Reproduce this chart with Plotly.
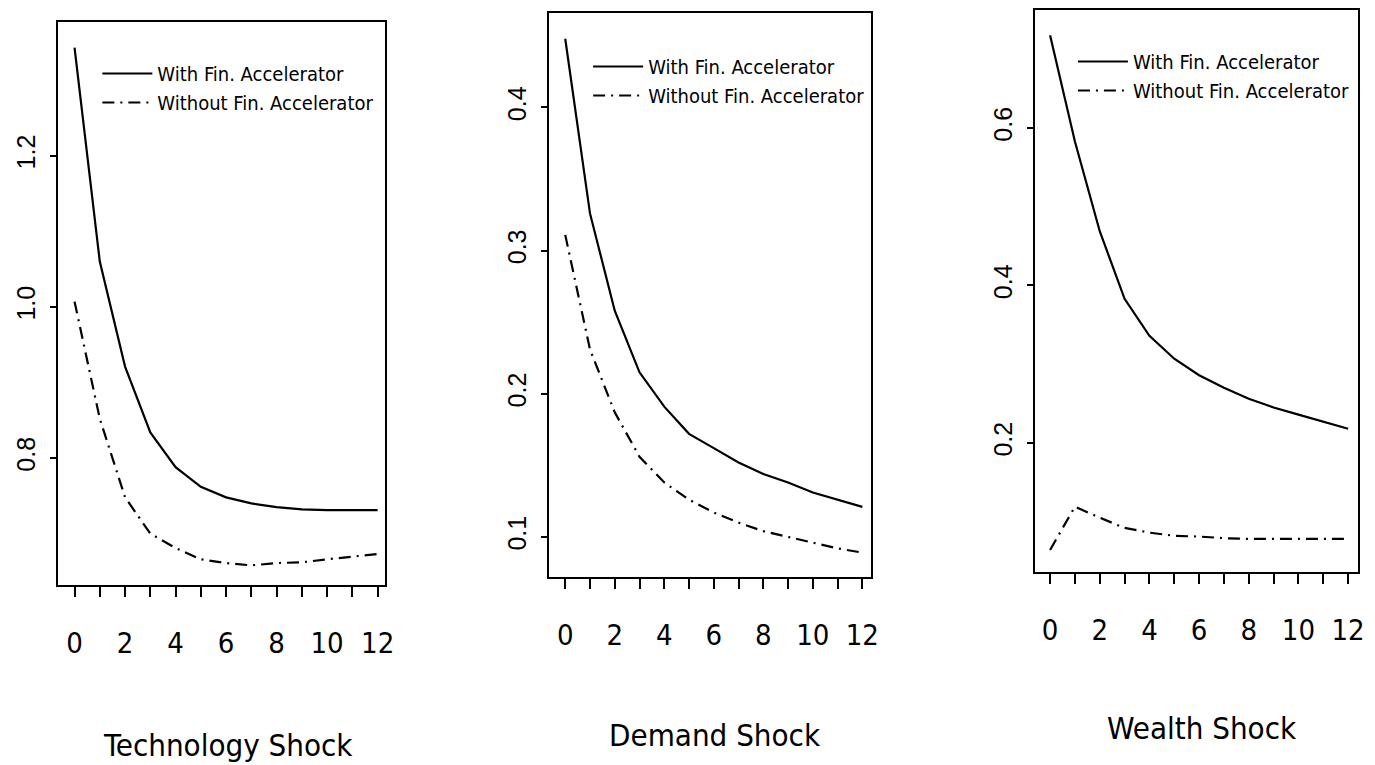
import plotly.graph_objects as go

periods = list(range(13))

tech_with = [1.343, 1.060, 0.921, 0.834, 0.788, 0.762, 0.748, 0.740, 0.735, 0.732, 0.731, 0.731, 0.731]
tech_without = [1.007, 0.852, 0.748, 0.700, 0.681, 0.666, 0.661, 0.658, 0.661, 0.662, 0.666, 0.669, 0.673]

demand_with = [0.448, 0.326, 0.258, 0.215, 0.191, 0.172, 0.162, 0.152, 0.144, 0.138, 0.131, 0.126, 0.121]
demand_without = [0.311, 0.231, 0.187, 0.156, 0.138, 0.126, 0.117, 0.110, 0.104, 0.100, 0.096, 0.092, 0.089]

wealth_with = [0.718, 0.583, 0.469, 0.383, 0.336, 0.307, 0.286, 0.270, 0.256, 0.245, 0.236, 0.227, 0.218]
wealth_without = [0.064, 0.119, 0.105, 0.092, 0.086, 0.082, 0.081, 0.079, 0.078, 0.078, 0.078, 0.078, 0.078]

panel_titles = ["Technology Shock", "Demand Shock", "Wealth Shock"]
series_names = ["With Fin. Accelerator", "Without Fin. Accelerator"]
y_ticks = [[0.8, 1.0, 1.2], [0.1, 0.2, 0.3, 0.4], [0.2, 0.4, 0.6]]
y_ticktext = [["0.8", "1.0", "1.2"], ["0.1", "0.2", "0.3", "0.4"], ["0.2", "0.4", "0.6"]]
x_ticks = [0, 2, 4, 6, 8, 10, 12]

W, H = 1375, 765
boxes = [  # left, top, right, bottom in px
    (58, 22, 388, 585),
    (553, 13, 877, 577),
    (1042, 10, 1367, 572),
]
x_ranges = [[-0.67, 12.31], [-0.64, 12.36], [-0.6, 12.4]]
y_ranges = [[0.632, 1.377], [0.072, 0.466], [0.036, 0.750]]
legend_pos = [(98, 54), (592, 47), (1080, 42)]
title_pos = [(230, 745), (720, 735), (1210, 728)]

data = [(tech_with, tech_without), (demand_with, demand_without), (wealth_with, wealth_without)]

NARROW = "Liberation Sans Narrow, DejaVu Sans Condensed, Arial Narrow, sans-serif"
REG = "Liberation Sans, Arial, sans-serif"

fig = go.Figure()
layout = dict(
    width=W, height=H, margin=dict(l=0, r=0, t=0, b=0),
    paper_bgcolor="white", plot_bgcolor="white", showlegend=True,
    annotations=[],
)

for i in range(3):
    sfx = "" if i == 0 else str(i + 1)
    lg = "legend" if i == 0 else f"legend{i + 1}"
    w, wo = data[i]
    fig.add_trace(go.Scatter(x=periods, y=w, mode="lines", name=series_names[0],
                             line=dict(color="black", width=2.2),
                             xaxis="x" + sfx, yaxis="y" + sfx, legend=lg))
    fig.add_trace(go.Scatter(x=periods, y=wo, mode="lines", name=series_names[1],
                             line=dict(color="black", width=2.2, dash="12px,6px,2px,6px"),
                             xaxis="x" + sfx, yaxis="y" + sfx, legend=lg))
    l, t, r, b = boxes[i]
    layout["xaxis" + sfx] = dict(
        domain=[l / W, r / W], range=x_ranges[i], anchor="y" + sfx,
        showline=True, linecolor="black", linewidth=2, mirror=True,
        showgrid=False, zeroline=False,
        tickmode="array", tickvals=x_ticks, ticks="outside", ticklen=10, tickwidth=2,
        tickcolor="black", ticklabelstandoff=21,
        minor=dict(tickmode="array", tickvals=[1, 3, 5, 7, 9, 11], ticks="outside",
                   ticklen=10, tickwidth=2, tickcolor="black", showgrid=False),
        tickfont=dict(family=NARROW, size=29, color="black"),
    )
    layout["yaxis" + sfx] = dict(
        domain=[1 - b / H, 1 - t / H], range=y_ranges[i], anchor="x" + sfx,
        showline=True, linecolor="black", linewidth=2, mirror=True,
        showgrid=False, zeroline=False,
        tickmode="array", tickvals=y_ticks[i], ticktext=y_ticktext[i],
        ticks="outside", ticklen=6, tickwidth=2, tickcolor="black",
        tickangle=-90, ticklabelstandoff=5,
        tickfont=dict(family=REG, size=25, color="black"),
    )
    lx, ly = legend_pos[i]
    layout[lg] = dict(
        x=lx / W, y=1 - ly / H, xanchor="left", yanchor="top",
        bgcolor="rgba(0,0,0,0)", borderwidth=0, itemwidth=50,
        font=dict(family=NARROW, size=20, color="black"),
        tracegroupgap=0,
    )
    tx, ty = title_pos[i]
    layout["annotations"].append(dict(
        text=panel_titles[i], x=tx / W, y=1 - ty / H, xref="paper", yref="paper",
        xanchor="center", yanchor="middle", showarrow=False,
        font=dict(family=NARROW, size=31, color="black"),
    ))

fig.update_layout(**layout)
fig.write_html("out.html")
